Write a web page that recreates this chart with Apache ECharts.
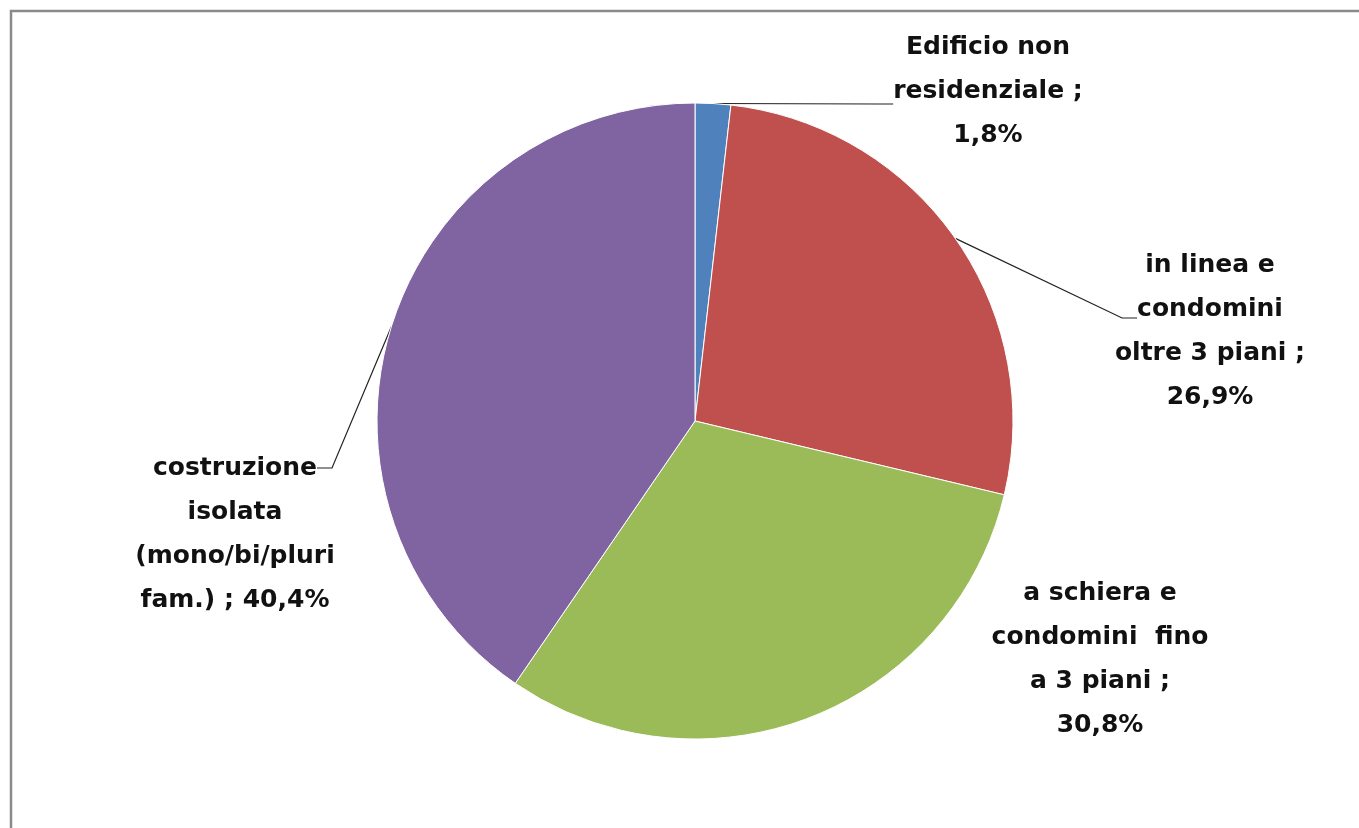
<!DOCTYPE html>
<html>
<head>
<meta charset="utf-8">
<script src="https://cdn.jsdelivr.net/npm/echarts@6/dist/echarts.min.js"></script>
<style>
html,body{margin:0;padding:0;background:#fff;}
#chart{width:1359px;height:828px;}
</style>
</head>
<body>
<div id="chart"></div>
<script>
// ---- data ----
const categories = [
  ['Edificio non', 'residenziale ;'],
  ['in linea e', 'condomini', 'oltre 3 piani ;'],
  ['a schiera e', 'condomini  fino', 'a 3 piani ;'],
  ['costruzione', 'isolata', '(mono/bi/pluri', 'fam.) ;']
];
const values = [1.8, 26.9, 30.8, 40.4];
const valueLabels = ['1,8%', '26,9%', '30,8%', '40,4%'];

// ---- presentation config ----
const colors = ['#4F81BD', '#C0504D', '#9BBB59', '#8064A2'];
const leaderLineIdx = [1, 1, -1, 0];       // text line the leader line attaches to (-1 = none)
const leaderDrop = [26, 18, 0, 0];         // extra spacer below that line (moves leader end down)
const labelCenters = [[988, 91], [1210, 331], [1100, 659], [235, 534]];
const LH = 44;

function labelLines(i) {
  const ls = categories[i].slice();
  if (i === 3) ls[ls.length - 1] = ls[ls.length - 1] + ' ' + valueLabels[i];
  else ls.push(valueLabels[i]);
  return ls;
}

const baseLabel = {
  fontFamily: 'DejaVu Sans',
  fontWeight: 'bold',
  fontSize: 25,
  lineHeight: LH,
  color: '#111',
  align: 'center'
};

const spacerRich = {};
leaderDrop.forEach(h => { if (h > 0) spacerRich['s' + h] = { lineHeight: h, fontSize: 1, height: h }; });

const chart = echarts.init(document.getElementById('chart'));
chart.setOption({
  animation: false,
  backgroundColor: '#fff',
  graphic: [{
    type: 'polyline',
    shape: { points: [[11, 828], [11, 11], [1359, 11]] },
    style: { stroke: '#8a8a8a', lineWidth: 2.5, fill: null },
    silent: true
  }],
  series: [{
    // visible pie + the text line each leader connects to
    type: 'pie',
    center: [695, 421],
    radius: 318,
    startAngle: 90,
    clockwise: true,
    avoidLabelOverlap: false,
    itemStyle: { borderColor: '#fff', borderWidth: 1 },
    label: Object.assign({}, baseLabel, {
      show: true,
      position: 'outside',
      rich: spacerRich,
      formatter: p => {
        const i = p.dataIndex;
        const k = leaderLineIdx[i];
        if (k < 0) return '';
        const h = leaderDrop[i];
        return labelLines(i)[k] + (h > 0 ? '\n{s' + h + '| }' : '');
      }
    }),
    labelLine: {
      show: true,
      length: 20,
      length2: 15,
      lineStyle: { color: '#222', width: 1.2 }
    },
    labelLayout: function (params) {
      const i = params.dataIndex;
      const c = labelCenters[i];
      const n = labelLines(i).length;
      const k = leaderLineIdx[i];
      const textY = c[1] + (k - (n - 1) / 2) * LH;
      return { x: c[0], y: textY + leaderDrop[i] / 2, align: 'center', verticalAlign: 'middle' };
    },
    data: values.map((v, i) => ({
      name: categories[i].join(' '),
      value: v,
      itemStyle: { color: colors[i] },
      label: { show: leaderLineIdx[i] >= 0 },
      labelLine: { show: leaderLineIdx[i] >= 0 }
    }))
  }, {
    // transparent twin carrying the remaining label lines
    type: 'pie',
    center: [695, 421],
    radius: 318,
    startAngle: 90,
    clockwise: true,
    silent: true,
    avoidLabelOverlap: false,
    itemStyle: { color: 'rgba(0,0,0,0)', borderWidth: 0 },
    label: Object.assign({}, baseLabel, {
      show: true,
      position: 'outside',
      formatter: p => {
        const k = leaderLineIdx[p.dataIndex];
        return labelLines(p.dataIndex).map((s, j) => (j === k ? ' ' : s)).join('\n');
      }
    }),
    labelLine: { show: false },
    labelLayout: function (params) {
      const c = labelCenters[params.dataIndex];
      return { x: c[0], y: c[1], align: 'center', verticalAlign: 'middle' };
    },
    data: values.map((v, i) => ({ name: categories[i].join(' '), value: v }))
  }]
});
</script>
</body>
</html>
